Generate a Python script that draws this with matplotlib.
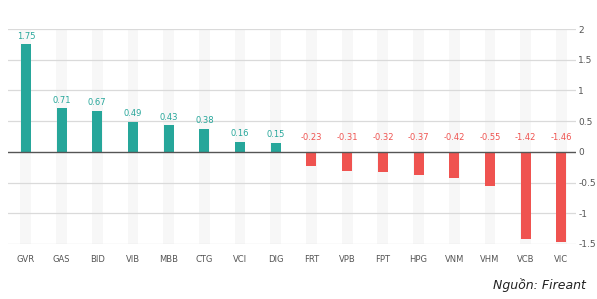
import numpy as np
import matplotlib
matplotlib.use("Agg")
import matplotlib.pyplot as plt

tickers = ["GVR", "GAS", "BID", "VIB", "MBB", "CTG", "VCI", "DIG",
           "FRT", "VPB", "FPT", "HPG", "VNM", "VHM", "VCB", "VIC"]
values = [1.75, 0.71, 0.67, 0.49, 0.43, 0.38, 0.16, 0.15,
          -0.23, -0.31, -0.32, -0.37, -0.42, -0.55, -1.42, -1.46]
yticks = [-1.5, -1, -0.5, 0, 0.5, 1, 1.5, 2]
ytick_labels = ["-1.5", "-1", "-0.5", "0", "0.5", "1", "1.5", "2"]

GREEN = "#26a69a"
RED = "#ef5350"

fig = plt.figure(figsize=(5.97, 2.99), dpi=100)
ax = fig.add_axes([0.0134, 0.184, 0.952, 0.719])

x = np.arange(len(tickers))
colors = [GREEN if v >= 0 else RED for v in values]

# faint background stripes behind every bar
ax.bar(x, [3.5] * len(x), width=0.3, bottom=-1.5, color="#f7f7f7", zorder=0)

for yv in yticks:
    if yv == 0:
        continue
    ax.axhline(yv, color="#dadada", linewidth=0.9, zorder=1)

ax.bar(x, values, width=0.28, color=colors, zorder=2)
ax.axhline(0, color="#555555", linewidth=1.0, zorder=3)

for xi, v, c in zip(x, values, colors):
    y = v + 0.06 if v >= 0 else 0.16
    ax.text(xi, y, f"{v:g}", ha="center", va="bottom", fontsize=6, color=c)

ax.set_xlim(-0.5, 15.42)
ax.set_ylim(-1.5, 2)
ax.set_xticks(x)
ax.set_xticklabels(tickers, fontsize=6, color="#555555")
ax.yaxis.tick_right()
ax.set_yticks(yticks)
ax.set_yticklabels(ytick_labels, fontsize=6.5, color="#555555")
ax.tick_params(axis="both", length=0)
ax.tick_params(axis="x", pad=8)
ax.tick_params(axis="y", pad=1.5)
for s in ax.spines.values():
    s.set_visible(False)

fig.text(0.982, 0.025, "Nguồn: Fireant", ha="right", va="bottom",
         fontsize=9, style="italic", color="#222222")

fig.savefig("out.png", dpi=100)
